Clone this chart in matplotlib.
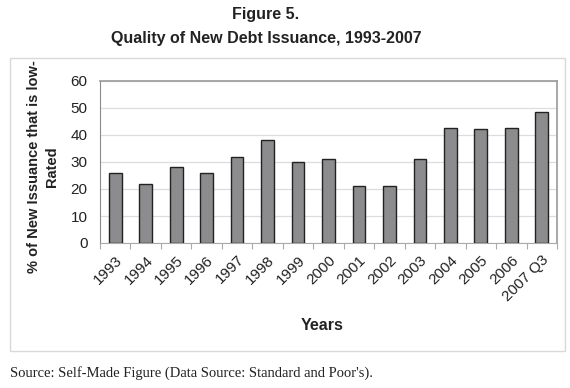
import matplotlib

matplotlib.use("Agg")
import matplotlib.pyplot as plt
from matplotlib.patches import Rectangle
import numpy as np

years = ["1993", "1994", "1995", "1996", "1997", "1998", "1999", "2000",
         "2001", "2002", "2003", "2004", "2005", "2006", "2007 Q3"]
low_rated_pct = [26, 22, 28, 26, 32, 38, 30, 31, 21, 21, 31, 42.5, 42.2, 42.5, 48.5]
y_ticks = [0, 10, 20, 30, 40, 50, 60]

plt.rcParams["font.family"] = ["Liberation Sans", "DejaVu Sans"]

W, H = 570, 388
fig = plt.figure(figsize=(W / 100, H / 100), dpi=100)

# outer chart frame
fig.patches.append(Rectangle((10 / W, 1 - 351 / H), 555 / W, 293 / H,
                             transform=fig.transFigure, fill=False,
                             edgecolor="#d9d9d9", linewidth=1))

ax = fig.add_axes([100 / W, 1 - 243 / H, 457 / W, 162 / H])
x = np.arange(len(years))
ax.bar(x, low_rated_pct, width=0.42, color="#8c8c8e", edgecolor="#222222",
       linewidth=1.0, zorder=3)

ax.set_xlim(-0.5, len(years) - 0.5)
ax.set_ylim(0, 60)
ax.set_yticks(y_ticks)
ax.yaxis.grid(True, color="#dddddd", linewidth=0.9, zorder=0)
ax.tick_params(axis="y", length=0, labelsize=11, pad=9, colors="#222222")

ax.set_xticks(x)
ax.set_xticklabels(years, rotation=45, ha="right", rotation_mode="anchor",
                   fontsize=11, color="#222222")
ax.tick_params(axis="x", length=0, pad=7)
ax.set_xticks(np.arange(-0.5, len(years)), minor=True)
ax.tick_params(axis="x", which="minor", length=4, color="#aaaaaa", width=0.8)

for side in ("top", "right"):
    ax.spines[side].set_color("#9a9a9a")
    ax.spines[side].set_linewidth(1.2)
ax.spines["left"].set_color("#8a8a8a")
ax.spines["bottom"].set_color("#aaaaaa")

fig.text(266 / W, 1 - 15 / H, "Figure 5.", ha="center", va="center",
         fontsize=11.5, fontweight="bold", color="#222222")
fig.text(266 / W, 1 - 38 / H, "Quality of New Debt Issuance, 1993-2007",
         ha="center", va="center", fontsize=11.5, fontweight="bold", color="#222222")

fig.text(43 / W, 1 - 167 / H, "% of New Issuance that is low-\nRated",
         rotation=90, ha="center", va="center", multialignment="center",
         fontsize=10.5, fontweight="bold", color="#222222", linespacing=1.3)
fig.text(322 / W, 1 - 326 / H, "Years", ha="center", va="center",
         fontsize=11.5, fontweight="bold", color="#222222")

fig.text(10 / W, 1 - 373 / H, "Source: Self-Made Figure (Data Source: Standard and Poor's).",
         ha="left", va="center", fontsize=10.5, family=["Liberation Serif", "DejaVu Serif"],
         color="#222222")

fig.savefig("out.png", dpi=100)
